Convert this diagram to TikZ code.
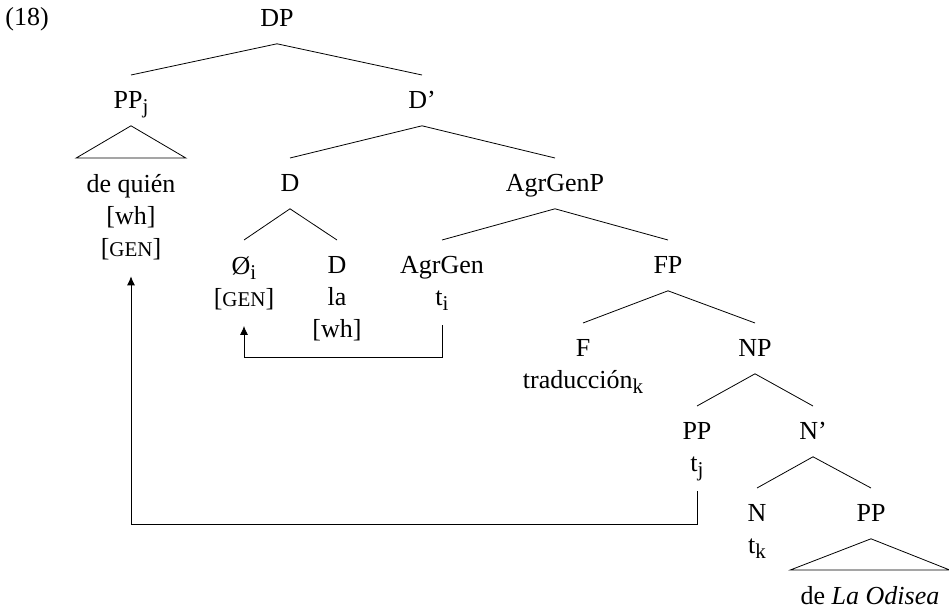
\documentclass[tikz,border=0pt]{standalone}
\usepackage{fontspec}
\setmainfont{Liberation Serif}
\usetikzlibrary{arrows.meta}
\newcommand{\fsc}[1]{{\fontsize{10.5pt}{11pt}\selectfont #1}}
\newcommand{\sub}[1]{\raisebox{-2.5pt}{\fontsize{10.5pt}{11pt}\selectfont #1}}

\begin{document}
\begin{tikzpicture}[x=0.5pt,y=-0.5pt,
    font=\fontsize{13pt}{16pt}\selectfont,
    cat/.style={anchor=north, inner xsep=0pt, inner ysep=8pt,
        text height=8.5pt, text depth=0.5pt},
    leaf/.style={anchor=north, inner xsep=5pt, inner ysep=8pt,
        align=center}]
\useasboundingbox (0,0) rectangle (949,609);

% Example number
\node[anchor=base west, inner sep=0pt] (exnum) at (5,26) {(18)};

% Top of the tree
\node[cat] (dp) at (277,-7) {DP};
\node[cat] (ppj) at (131,75) {PP\sub{j}};
\node[cat] (dbar) at (422,75) {D'};
\node[leaf] (quien) at (131,158) {de quién\\{}[wh]\\{}[\fsc{GEN}]};

% Determiner and AgrGenP
\node[cat] (d) at (290,158) {D};
\node[cat] (agrgenp) at (555,158) {AgrGenP};
\node[leaf] (nul) at (244,240) {Ø\sub{i}\\{}[\fsc{GEN}]};
\node[leaf] (dla) at (337,240) {D\\la\\{}[wh]};
\node[leaf] (agrgen) at (442,240) {AgrGen\\t\sub{i}};
\node[cat] (fp) at (668,240) {FP};

% FP and NP
\node[leaf] (f) at (583,323) {F\\traducción\sub{k}};
\node[cat] (np) at (755,323) {NP};
\node[leaf] (ppt) at (697,406) {PP\\t\sub{j}};
\node[cat] (nbar) at (813,406) {N'};
\node[leaf] (nt) at (757,488) {N\\t\sub{k}};
\node[cat] (pp) at (871,488) {PP};
\node[leaf] (odisea) at (870,570) {de \textit{La Odisea}};

% Branches
\draw (dp.south) edge (ppj.north)
      (dp.south) edge (dbar.north)
      (dbar.south) edge (d.north)
      (dbar.south) edge (agrgenp.north)
      (d.south) edge (nul.north)
      (d.south) edge (dla.north)
      (agrgenp.south) edge (agrgen.north)
      (agrgenp.south) edge (fp.north)
      (fp.south) edge (f.north)
      (fp.south) edge (np.north)
      (np.south) edge (ppt.north)
      (np.south) edge (nbar.north)
      (nbar.south) edge (nt.north)
      (nbar.south) edge (pp.north);

% Triangles
\draw (ppj.south) -- (quien.north west) -- (quien.north east) -- cycle;
\draw (pp.south) -- (odisea.north west) -- (odisea.north east) -- cycle;

% Movement
\draw[-{Latex[length=4.5pt,width=4pt]}] ([yshift=1pt]agrgen.south) -- ++(0,-16pt) -| (nul.south);
\draw[-{Latex[length=4.5pt,width=4pt]}] ([yshift=3pt]ppt.south) -- ++(0,-16.5pt) -| (quien.south);

\end{tikzpicture}
\end{document}
